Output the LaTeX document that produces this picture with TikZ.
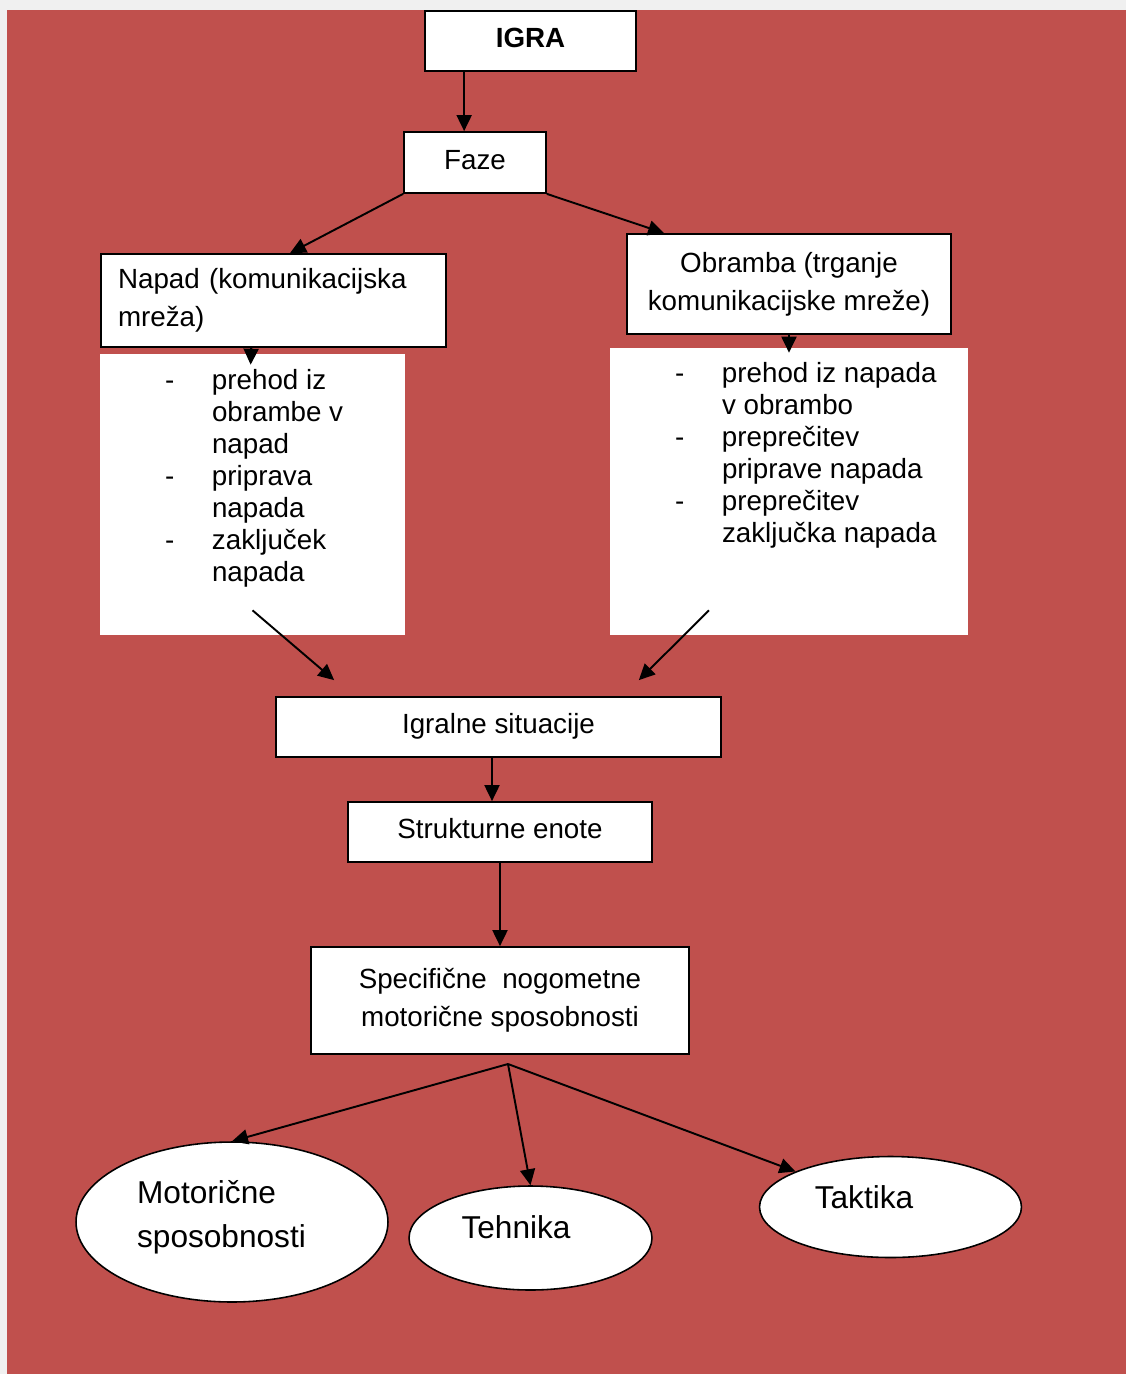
\documentclass[tikz,border=0pt]{standalone}
\usepackage{fontspec}
\setmainfont{Liberation Sans}
\usepackage{tikz}
\usetikzlibrary{arrows.meta,positioning,shapes.geometric,calc}
\definecolor{slidered}{HTML}{C0504D}
\definecolor{pagegray}{HTML}{F0F0F0}
\tikzset{
  plainbox/.style={draw=black,line width=1pt,fill=white,align=center,inner sep=0pt,font=\fontsize{15.8}{21.5}\selectfont},
  oneline/.style={text height=11.5pt,text depth=4pt},
  listbox/.style={fill=white,inner sep=0pt},
  listtext/.style={inner sep=0pt,font=\fontsize{15.8}{18.2}\selectfont},
  oval/.style={draw=black,line width=.9pt,fill=white,ellipse,inner sep=0pt},
  ovaltext/.style={align=left,font=\fontsize{18}{25}\selectfont},
  flow/.style={-{Triangle[length=.32cm,width=.3cm]},line width=1.1pt},
}

\begin{document}
\begin{tikzpicture}[x=0.02cm,y=-0.02cm]
			% page and slide background
			\fill[pagegray] (0,0) rectangle (1126,1374);
			\fill[slidered] (7,10) rectangle (1126,1374);
			\useasboundingbox (0,0) rectangle (1126,1374);
			
			\node[plainbox,oneline,minimum width=4.22cm,minimum height=1.2cm] (igra) at (530.5,41) {\textbf{IGRA}};
			
			\node[plainbox,oneline,minimum width=2.84cm,minimum height=1.22cm] (faze) at (475,162.5) {Faze};
			
			\node[plainbox,align=left,text width=6.22cm,inner xsep=.34cm,minimum height=1.86cm] (napad) at (273.5,300.5)
			{Napad (komunikacijska\\mreža)};
			
			\node[plainbox,minimum width=6.48cm,minimum height=2cm] (obramba) at (789,284)
			{Obramba (trganje\\komunikacijske mreže)};
			
			% white list panels
			\node[listbox,minimum width=6.1cm,minimum height=5.62cm] (napadlist) at (252.5,494.5) {};
			\node[listbox,minimum width=7.16cm,minimum height=5.74cm] (obrambalist) at (789,491.5) {};
			
			\node[listtext,below right=.27cm and 1.3cm of napadlist.north west] (napaditems)
			{\begin{tabular}{@{}p{.94cm}@{}l@{}}
			- & prehod iz\\
			  & obrambe v\\
			  & napad\\
			- & priprava\\
			  & napada\\
			- & zaključek\\
			  & napada
			\end{tabular}};
			
			\node[listtext,below right=.24cm and 1.3cm of obrambalist.north west] (obrambaitems)
			{\begin{tabular}{@{}p{.94cm}@{}l@{}}
			- & prehod iz napada\\
			  & v obrambo\\
			- & preprečitev\\
			  & priprave napada\\
			- & preprečitev\\
			  & zaključka napada
			\end{tabular}};
			
			\node[plainbox,oneline,minimum width=8.9cm,minimum height=1.2cm] (igralne) at (498.5,727) {Igralne situacije};
			
			\node[plainbox,oneline,minimum width=6.08cm,minimum height=1.2cm] (strukturne) at (500,832) {Strukturne enote};
			
			\node[plainbox,minimum width=7.56cm,minimum height=2.14cm] (specificne) at (500,1000.5)
			{Specifične\ \ nogometne\\motorične sposobnosti};
			
			% three ovals
			\node[oval,minimum width=6.24cm,minimum height=3.2cm,
			  label={[ovaltext,xshift=-.21cm,yshift=.1cm]center:Motorične\\sposobnosti}] (motoricne) at (232,1222) {};
			\node[oval,minimum width=4.86cm,minimum height=2.08cm,
			  label={[ovaltext,xshift=-.29cm,yshift=.22cm]center:Tehnika}] (tehnika) at (530.5,1238) {};
			\node[oval,minimum width=5.24cm,minimum height=2.02cm,
			  label={[ovaltext,xshift=-.53cm,yshift=.2cm]center:Taktika}] (taktika) at (890.5,1207) {};
			
			\coordinate (fan) at (508,1064);
			
			\draw[flow] ([xshift=.8cm]igra.south west) coordinate (igradrop) -- (igradrop |- faze.north);
			\draw[flow] (faze.south west) -- ([xshift=.33cm]napad.north);
			\draw[flow] (faze.south east) -- ([xshift=.76cm]obramba.north west);
			\draw[flow] ([xshift=3.02cm]napad.south west) -- ([xshift=3.02cm,yshift=-.22cm]napadlist.north west);
			\draw[flow] (obramba.south) -- ([yshift=-.1cm]obrambalist.north);
			\draw[flow] ($(napadlist.south)+(0,-25)$) -- ($(igralne.north west)+(59,-16)$);
			\draw[flow] ($(obrambalist.south)+(-80,-25)$) -- ($(igralne.north east)+(-83,-16)$);
			\draw[flow] ([xshift=-.13cm]igralne.south) -- ([xshift=-.16cm]strukturne.north);
			\draw[flow] (strukturne) -- (specificne);
			\draw[flow] (fan) -- (motoricne.north);
			\draw[flow] (fan) -- (tehnika.north);
			\draw[flow] (fan) -- (taktika);
		\end{tikzpicture}
\end{document}
